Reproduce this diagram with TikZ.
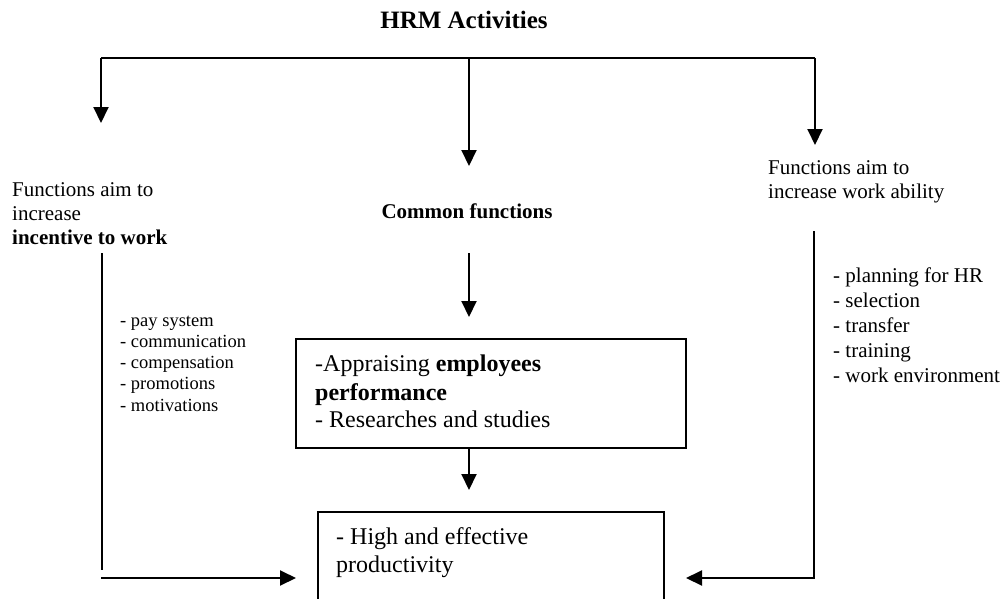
\documentclass[tikz,border=0pt]{standalone}
\usepackage{fontspec}
\setmainfont{Liberation Serif}
\usetikzlibrary{arrows.meta}
\tikzset{
  conn/.style={line width=2pt, draw=black},
  arr/.style={conn, -{Triangle[length=16pt,width=15pt]}},
  box/.style={draw=black, line width=2pt, inner sep=0pt},
  txt/.style={anchor=base west, inner sep=0pt, font=\fontsize{21}{24}\selectfont},
  small/.style={anchor=base west, inner sep=0pt, font=\fontsize{18.5}{21}\selectfont},
  big/.style={anchor=base west, inner sep=0pt, font=\fontsize{24}{28}\selectfont},
}
\begin{document}
\begin{tikzpicture}[x=1pt,y=-1pt]
\clip (0,0) rectangle (1005,598);
\fill[white] (0,0) rectangle (1005,598);
% title
\node[anchor=base, inner sep=0pt, font=\fontsize{25}{28}\selectfont\bfseries] (title) at (464,28) {HRM Activities};
% top distribution line
\coordinate (tl) at (101,58);
\coordinate (tm) at (469,58);
\coordinate (tr) at (815,58);
\coordinate (al) at (101,123);
\coordinate (am) at (469,166);
\coordinate (ar) at (815,145);
\draw[conn] (tl) -- (tr);
\draw[arr] (tl) -- (al);
\draw[arr] (tm) -- (am);
\draw[arr] (tr) -- (ar);
% left heading
\node[txt] (lh1) at (12,196) {Functions aim to};
\node[txt] (lh2) at (12,220) {increase};
\node[txt, font=\fontsize{21}{24}\selectfont\bfseries] (lh3) at (12,244) {incentive to work};
% middle heading
\node[anchor=base, inner sep=0pt, font=\fontsize{21}{24}\selectfont\bfseries] (mh) at (467,218) {Common functions};
% right heading
\node[txt] (rh1) at (768,174) {Functions aim to};
\node[txt] (rh2) at (768,198) {increase work ability};
% left list
\node[small] (ll1) at (120,326) {- pay system};
\node[small] (ll2) at (120,347) {- communication};
\node[small] (ll3) at (120,368) {- compensation};
\node[small] (ll4) at (120,389) {- promotions};
\node[small] (ll5) at (120,411) {- motivations};
% right list
\node[txt] (rl1) at (833,282) {- planning for HR};
\node[txt] (rl2) at (833,307) {- selection};
\node[txt] (rl3) at (833,332) {- transfer};
\node[txt] (rl4) at (833,357) {- training};
\node[txt] (rl5) at (833,382) {- work environment};
% box 1
\node[box, minimum width=390pt, minimum height=109pt] (b1) at (491,393.5) {};
\node[big] (b1t1) at (315,371) {-Appraising \textbf{employees}};
\node[big] (b1t2) at (315,400) {\textbf{performance}};
\node[big] (b1t3) at (315,427) {- Researches and studies};
% box 2
\node[box, minimum width=346pt, minimum height=128pt] (b2) at (491,576) {};
\node[big] (b2t1) at (336,544) {- High and effective};
\node[big] (b2t2) at (336,572) {productivity};
% middle arrows
\coordinate (m1s) at (469,253);
\coordinate (m1e) at (469,317);
\coordinate (m2s) at (469,448);
\coordinate (m2e) at (469,490);
\draw[arr] (m1s) -- (m1e);
\draw[arr] (m2s) -- (m2e);
% left branch
\coordinate (lvs) at (102,253);
\coordinate (lve) at (102,570);
\coordinate (lhs) at (101,578);
\coordinate (lhe) at (296,578);
\draw[conn] (lvs) -- (lve);
\draw[arr] (lhs) -- (lhe);
% right branch
\coordinate (rvs) at (814,231);
\coordinate (rc) at (814,578);
\coordinate (rhe) at (686,578);
\draw[arr] (rvs) -- (rc) -- (rhe);
\end{tikzpicture}
\end{document}
